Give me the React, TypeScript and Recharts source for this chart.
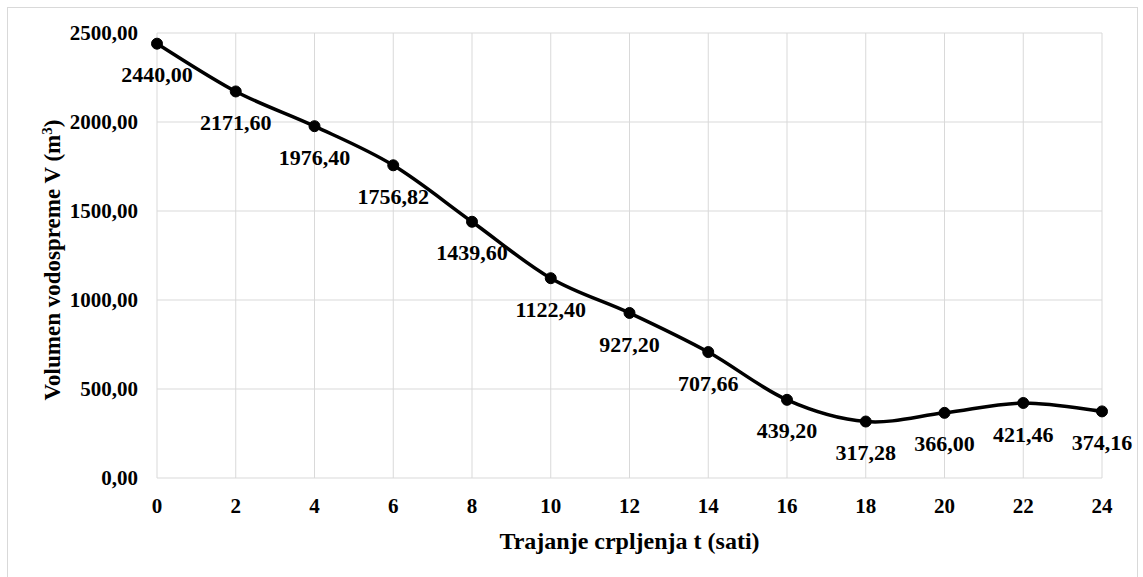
import React from "react";
import { CartesianGrid, LabelList, Line, LineChart, XAxis, YAxis } from "recharts";

const hours = [0, 2, 4, 6, 8, 10, 12, 14, 16, 18, 20, 22, 24];
const volume = [2440, 2171.6, 1976.4, 1756.82, 1439.6, 1122.4, 927.2, 707.66, 439.2, 317.28, 366, 421.46, 374.16];
const yTicks = [0, 500, 1000, 1500, 2000, 2500];

const data = hours.map((t, i) => ({ t, v: volume[i] }));

const FONT = "Liberation Serif, Times New Roman, serif";
const fmt = (v: number) => v.toFixed(2).replace(".", ",");

// Excel-like smoothed line (uniform Catmull-Rom through the points)
function smoothCurve(context: any) {
  let pts: [number, number][] = [];
  return {
    areaStart() {},
    areaEnd() {},
    lineStart() {
      pts = [];
    },
    point(x: number, y: number) {
      pts.push([+x, +y]);
    },
    lineEnd() {
      if (!pts.length) return;
      context.moveTo(pts[0][0], pts[0][1]);
      for (let i = 0; i < pts.length - 1; i++) {
        const p0 = pts[i - 1] ?? pts[i];
        const p1 = pts[i];
        const p2 = pts[i + 1];
        const p3 = pts[i + 2] ?? pts[i + 1];
        context.bezierCurveTo(
          p1[0] + (p2[0] - p0[0]) / 6,
          p1[1] + (p2[1] - p0[1]) / 6,
          p2[0] - (p3[0] - p1[0]) / 6,
          p2[1] - (p3[1] - p1[1]) / 6,
          p2[0],
          p2[1]
        );
      }
    },
  };
}

export default function App() {
  return (
    <div
      style={{
        position: "absolute",
        left: 7,
        top: 7,
        width: 1131,
        height: 590,
        border: "1px solid #d9d9d9",
        boxSizing: "border-box",
        background: "#fff",
      }}
    >
      <LineChart
        width={1129}
        height={588}
        data={data}
        margin={{ top: 25, right: 35, left: 0, bottom: 58 }}
      >
        <CartesianGrid stroke="#d9d9d9" strokeWidth={1} />
        <XAxis
          dataKey="t"
          type="number"
          domain={[0, 24]}
          ticks={hours}
          axisLine={false}
          tickLine={false}
          tickSize={0}
          tickMargin={20}
          height={60}
          interval={0}
          tick={{ fill: "#000", fontFamily: FONT, fontWeight: "bold", fontSize: 21 }}
        />
        <YAxis
          type="number"
          domain={[0, 2500]}
          ticks={yTicks}
          width={149}
          axisLine={false}
          tickLine={false}
          tickSize={0}
          tickMargin={19}
          tickFormatter={fmt}
          tick={{ fill: "#000", fontFamily: FONT, fontWeight: "bold", fontSize: 21 }}
        />
        <Line
          dataKey="v"
          type={smoothCurve as any}
          stroke="#000"
          strokeWidth={3.5}
          dot={{ r: 5.5, fill: "#000", stroke: "#000", strokeWidth: 1 }}
          activeDot={false}
          isAnimationActive={false}
        >
          <LabelList
            dataKey="v"
            position="bottom"
            offset={23}
            formatter={(v: any) => fmt(Number(v))}
            fill="#000"
            fontFamily={FONT}
            fontWeight="bold"
            fontSize={22}
          />
        </Line>
        <text
          x={621.5}
          y={541}
          textAnchor="middle"
          fill="#000"
          fontFamily={FONT}
          fontWeight="bold"
          fontSize={24}
        >
          Trajanje crpljenja t (sati)
        </text>
        <text
          x={52}
          y={252}
          transform="rotate(-90, 52, 252)"
          textAnchor="middle"
          fill="#000"
          fontFamily={FONT}
          fontWeight="bold"
          fontSize={23}
        >
          Volumen vodospreme V (m<tspan baselineShift="super" fontSize={15}>3</tspan>)
        </text>
      </LineChart>
    </div>
  );
}
